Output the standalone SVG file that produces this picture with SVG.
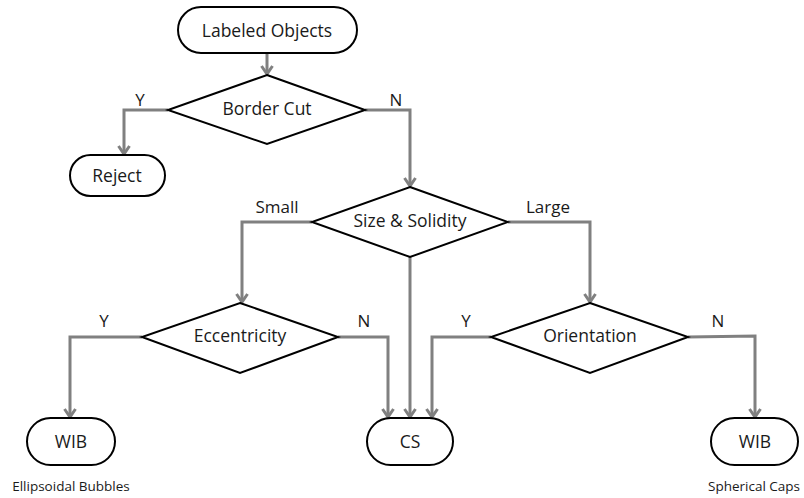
<svg xmlns="http://www.w3.org/2000/svg" width="804" height="498" viewBox="0 0 804 498">
<style>
.term{fill:#fff;stroke:#000;stroke-width:2}
.dec{fill:#fff;stroke:#000;stroke-width:2}
.t{font-family:"Open Sans","Liberation Sans",sans-serif;font-size:17.5px;fill:#1a1a1a;text-anchor:middle;dominant-baseline:central}
.lbl{font-family:"Open Sans","Liberation Sans",sans-serif;font-size:17px;fill:#1a1a1a;text-anchor:middle}
.cap{font-family:"Open Sans","Liberation Sans",sans-serif;font-size:13.5px;fill:#1a1a1a;text-anchor:middle}
.c{fill:none;stroke:#808080;stroke-width:3;marker-end:url(#ah)}
</style>
<defs>
<marker id="ah" markerUnits="userSpaceOnUse" markerWidth="14" markerHeight="14" refX="11" refY="7" orient="auto">
<path d="M3,1.5 L11,7 L3,12.5" fill="none" stroke="#808080" stroke-width="3"/>
</marker>
</defs>
<rect width="804" height="498" fill="#fff"/>
<g id="connectors">
<path class="c" d="M267,53 V74"/>
<path class="c" d="M168,110 H124 V154"/>
<path class="c" d="M365,110 H410 V186"/>
<path class="c" d="M312,222 H242 V302"/>
<path class="c" d="M508,222 H590 V302"/>
<path class="c" d="M410,257 V417"/>
<path class="c" d="M142,337 H70 V417"/>
<path class="c" d="M338,337 H388 V417"/>
<path class="c" d="M491,337 H432 V417"/>
<path class="c" d="M688,337 L755,336 V417"/>
<text class="lbl" x="140" y="106">Y</text>
<text class="lbl" x="396" y="106">N</text>
<text class="lbl" x="277" y="213">Small</text>
<text class="lbl" x="548" y="213">Large</text>
<text class="lbl" x="104" y="327">Y</text>
<text class="lbl" x="364" y="327">N</text>
<text class="lbl" x="466" y="327">Y</text>
<text class="lbl" x="718" y="327">N</text>
</g>
<g id="labeled-objects">
<rect class="term" x="178" y="7" width="179" height="46" rx="23"/>
<text class="t" x="267" y="30">Labeled Objects</text>
</g>
<g id="border-cut">
<polygon class="dec" points="267,75 365,110 267,144 168,110"/>
<text class="t" x="267" y="108">Border Cut</text>
</g>
<g id="reject">
<rect class="term" x="70" y="155" width="95" height="41" rx="20.5"/>
<text class="t" x="117" y="175">Reject</text>
</g>
<g id="size-solidity">
<polygon class="dec" points="410,187 508,222 410,257 312,222"/>
<text class="t" x="410" y="220">Size &amp; Solidity</text>
</g>
<g id="eccentricity">
<polygon class="dec" points="240,303 338,337 240,373 142,337"/>
<text class="t" x="240" y="335">Eccentricity</text>
</g>
<g id="orientation">
<polygon class="dec" points="590,303 688,337 590,373 491,337"/>
<text class="t" x="590" y="335">Orientation</text>
</g>
<g id="wib-left">
<rect class="term" x="27" y="418" width="88" height="47" rx="23.5"/>
<text class="t" x="71" y="441">WIB</text>
<text class="cap" x="71" y="491">Ellipsoidal Bubbles</text>
</g>
<g id="cs">
<rect class="term" x="367" y="418" width="86" height="47" rx="23.5"/>
<text class="t" x="410" y="441">CS</text>
</g>
<g id="wib-right">
<rect class="term" x="711" y="418" width="87" height="47" rx="23.5"/>
<text class="t" x="755" y="441">WIB</text>
<text class="cap" x="754" y="491">Spherical Caps</text>
</g>
</svg>
